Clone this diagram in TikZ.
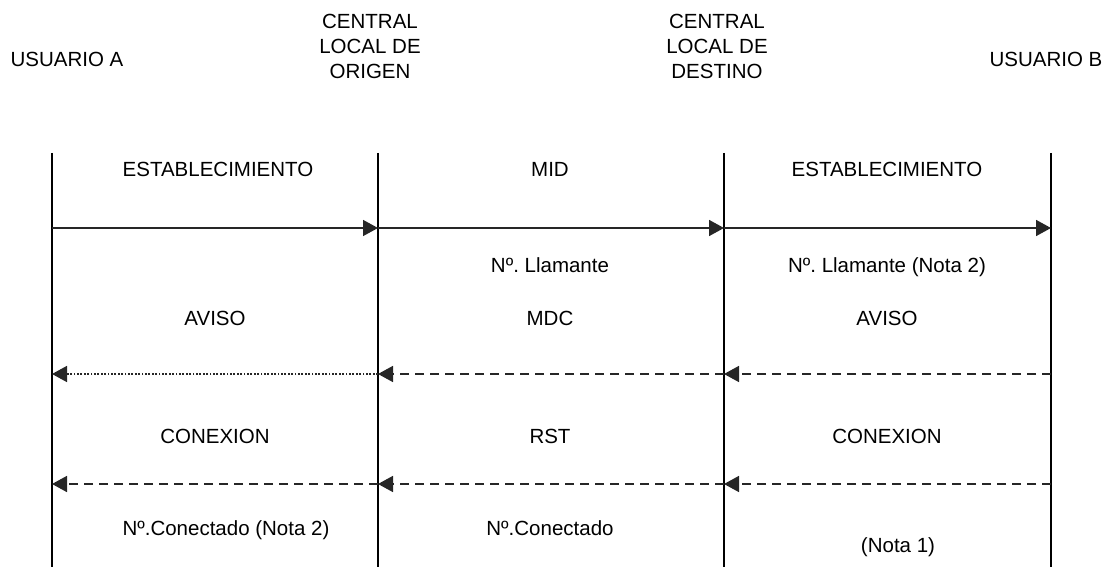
\documentclass[tikz,border=0pt]{standalone}
\usepackage{fontspec}
\setmainfont{Liberation Sans}
\usetikzlibrary{arrows.meta}
\frenchspacing
\begin{document}
\begin{tikzpicture}[x=1pt,y=-1pt,
  lbl/.style={font=\fontsize{20.5}{25}\selectfont, inner sep=0pt, anchor=base, align=center},
  life/.style={line width=1.6pt, black},
  msg/.style={line width=1.6pt, black!85, -{Triangle[length=15pt,width=16pt]}},
  dsh/.style={msg, dash pattern=on 9pt off 6pt},
  dtt/.style={msg, dash pattern=on 1.8pt off 1.6pt}]
\useasboundingbox (0,0) rectangle (1112,567);
% headers
\node[lbl] (hA) at (67,67) {USUARIO A};
\node[lbl, anchor=north] (hO) at (370,14) {CENTRAL\\LOCAL DE\\ORIGEN};
\node[lbl, anchor=north] (hD) at (717,14) {CENTRAL\\LOCAL DE\\DESTINO};
\node[lbl] (hB) at (1046,67) {USUARIO B};
% lifelines
\coordinate (a0) at (52,153); \coordinate (a1) at (52,567);
\coordinate (o0) at (378,153); \coordinate (o1) at (378,567);
\coordinate (d0) at (724,153); \coordinate (d1) at (724,567);
\coordinate (b0) at (1051,153); \coordinate (b1) at (1051,567);
\draw[life] (a0) -- (a1);
\draw[life] (o0) -- (o1);
\draw[life] (d0) -- (d1);
\draw[life] (b0) -- (b1);
% message rows
\coordinate (aS) at (52,228); \coordinate (oS) at (378,228); \coordinate (dS) at (724,228); \coordinate (bS) at (1051,228);
\coordinate (aV) at (52,374); \coordinate (oV) at (378,374); \coordinate (dV) at (724,374); \coordinate (bV) at (1051,374);
\coordinate (aC) at (52,484); \coordinate (oC) at (378,484); \coordinate (dC) at (724,484); \coordinate (bC) at (1051,484);
\draw[msg] (aS) -- (oS);
\draw[msg] (oS) -- (dS);
\draw[msg] (dS) -- (bS);
\draw[dsh] (bV) -- (dV);
\draw[dsh] (dV) -- (oV);
\draw[dtt] (oV) -- (aV);
\draw[dsh] (bC) -- (dC);
\draw[dsh] (dC) -- (oC);
\draw[dsh] (oC) -- (aC);
% labels
\node[lbl] (t1) at (218,177) {ESTABLECIMIENTO};
\node[lbl] (t2) at (550,177) {MID};
\node[lbl] (t3) at (887,177) {ESTABLECIMIENTO};
\node[lbl] (t5) at (550,272) {Nº. Llamante};
\node[lbl] (t6) at (887,272) {Nº. Llamante (Nota 2)};
\node[lbl] (t7) at (215,325) {AVISO};
\node[lbl] (t8) at (550,325) {MDC};
\node[lbl] (t9) at (887,325) {AVISO};
\node[lbl] (t10) at (215,443) {CONEXION};
\node[lbl] (t11) at (550,443) {RST};
\node[lbl] (t12) at (887,443) {CONEXION};
\node[lbl] (t13) at (226,535) {Nº.Conectado (Nota 2)};
\node[lbl] (t14) at (550,535) {Nº.Conectado};
\node[lbl] (t15) at (898,552) {(Nota 1)};
\end{tikzpicture}
\end{document}
